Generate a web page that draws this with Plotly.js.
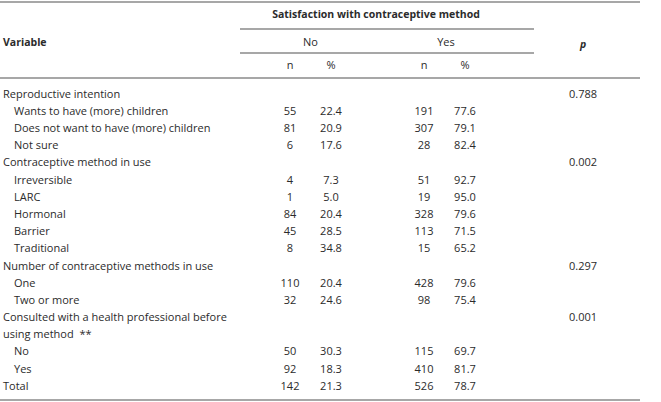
<!DOCTYPE html>
<html>
<head>
<meta charset="utf-8">
<script src="https://cdn.plot.ly/plotly-3.0.1.min.js"></script>
<style>html,body{margin:0;padding:0;background:#fff;}#chart{width:661px;height:402px;}</style>
</head>
<body>
<div id="chart"></div>
<script>
// ---- Data ----
const labels = [
  "Reproductive intention",
  "Wants to have (more) children",
  "Does not want to have (more) children",
  "Not sure",
  "Contraceptive method in use",
  "Irreversible",
  "LARC",
  "Hormonal",
  "Barrier",
  "Traditional",
  "Number of contraceptive methods in use",
  "One",
  "Two or more",
  "Consulted with a health professional before",
  "using method\u00a0\u00a0**",
  "No",
  "Yes",
  "Total"
];
const indent = [0,1,1,1,0,1,1,1,1,1,0,1,1,0,0,1,1,0];
const noN    = [null,55,81,6,null,4,1,84,45,8,null,110,32,null,null,50,92,142];
const noPct  = [null,22.4,20.9,17.6,null,7.3,5.0,20.4,28.5,34.8,null,20.4,24.6,null,null,30.3,18.3,21.3];
const yesN   = [null,191,307,28,null,51,19,328,113,15,null,428,98,null,null,115,410,526];
const yesPct = [null,77.6,79.1,82.4,null,92.7,95.0,79.6,71.5,65.2,null,79.6,75.4,null,null,69.7,81.7,78.7];
const pVals  = ["0.788","","","","0.002","","","","","","0.297","","","0.001","","","",""];
const groupTitle = "Satisfaction with contraceptive method";
const groupLabels = ["No","Yes"];
const subLabels = ["n","%","n","%"];

// ---- Layout constants (pixel-like axis units) ----
const W = 661, H = 402;
const rowTop = 95, rowStep = 17.18;
const xLabel = 3, xIndent = 14;
const xNoN = 290, xNoPct = 331, xYesN = 424, xYesPct = 465, xP = 583;
const font = {family: "Open Sans, sans-serif", size: 11, color: "#2b2b2b"};
const boldFont = {family: "Open Sans, sans-serif", size: 10.5, color: "#2b2b2b"};

const rowY = labels.map((_, i) => rowTop + i * rowStep);
const fmt = v => v === null ? "" : String(v);
const fmtPct = v => v === null ? "" : v.toFixed(1);

const traces = [];
function txt(xs, ys, texts, pos, f) {
  traces.push({
    type: "scatter", mode: "text", x: xs, y: ys, text: texts,
    textposition: pos, textfont: f || font, hoverinfo: "skip", showlegend: false, cliponaxis: false
  });
}
// labels
txt(labels.map((_, i) => indent[i] ? xIndent : xLabel), rowY, labels, "middle right");
// numeric columns
txt(rowY.map(() => xNoN), rowY, noN.map(fmt), "middle center");
txt(rowY.map(() => xNoPct), rowY, noPct.map(fmtPct), "middle center");
txt(rowY.map(() => xYesN), rowY, yesN.map(fmt), "middle center");
txt(rowY.map(() => xYesPct), rowY, yesPct.map(fmtPct), "middle center");
txt(rowY.map(() => xP), rowY, pVals, "middle center");
// headers
txt([xLabel], [43], ["<b>Variable</b>"], "middle right", boldFont);
txt([376], [15], ["<b>" + groupTitle + "</b>"], "middle center", boldFont);
txt([310.5, 446], [43, 43], groupLabels, "middle center");
txt([xNoN, xNoPct, xYesN, xYesPct], [66, 66, 66, 66], subLabels, "middle center");
txt([xP], [45], ["<b><i>p</i></b>"], "middle center", boldFont);

const lineStyle = {color: "#8a8a8a", width: 1.5};
const shapes = [
  {type: "line", xref: "x", yref: "y", x0: 0, x1: 640, y0: 2, y1: 2, line: lineStyle},
  {type: "line", xref: "x", yref: "y", x0: 240, x1: 534, y0: 29, y1: 29, line: lineStyle},
  {type: "line", xref: "x", yref: "y", x0: 240, x1: 534, y0: 53, y1: 53, line: lineStyle},
  {type: "line", xref: "x", yref: "y", x0: 0, x1: 640, y0: 78, y1: 78, line: lineStyle},
  {type: "line", xref: "x", yref: "y", x0: 0, x1: 640, y0: 400, y1: 400, line: lineStyle}
];

const layout = {
  width: W, height: H,
  margin: {l: 0, r: 0, t: 0, b: 0, pad: 0},
  paper_bgcolor: "#fff", plot_bgcolor: "#fff",
  xaxis: {range: [0, W], visible: false, fixedrange: true},
  yaxis: {range: [H, 0], visible: false, fixedrange: true},
  shapes: shapes,
  font: font
};
Plotly.newPlot("chart", traces, layout, {displayModeBar: false, staticPlot: true});
</script>
</body>
</html>
